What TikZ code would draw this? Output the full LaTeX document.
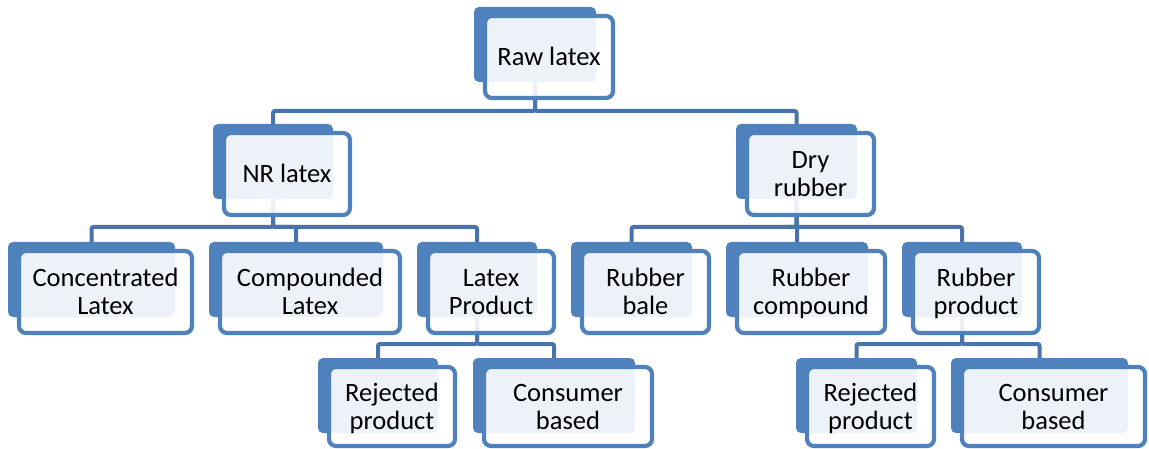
\documentclass[tikz,border=0pt]{standalone}
\usepackage{fontspec}
\setmainfont{Carlito}
\usetikzlibrary{calc}
\definecolor{accent}{RGB}{79,129,189}
\definecolor{linec}{RGB}{72,115,172}
\pgfdeclarelayer{bg}
\pgfsetlayers{bg,main}
\newcommand\fh{82}
\newcommand\mystrut{\rule[-5pt]{0pt}{27pt}}
\newcommand\smartbox[5]{%
  \node[backbox, minimum width={#3pt-#2pt}] (#1) at ({(#2+#3)/2},{#4+37.5}) {};
  \node[frontbox, minimum width={#3pt-#2pt+6pt}, minimum height={\fh pt}] (#1t) at ({(#2+#3)/2+14},{#4+9+\fh/2}) {\mystrut#5\mystrut};
}
\tikzset{
  backbox/.style={fill=accent, draw=none, rounded corners=5pt, minimum height=75pt, inner sep=0pt, outer sep=0pt},
  frontbox/.style={draw=accent, line width=4.2pt, fill=white, fill opacity=0.9, text opacity=1, rounded corners=7pt, inner sep=0pt, outer sep=0pt, align=center, font=\fontsize{26.5}{28}\selectfont, text=black},
  conn/.style={draw=linec, line width=4pt, rounded corners=2pt}
}
\begin{document}
\begin{tikzpicture}[x=1pt,y=-1pt]
\useasboundingbox (0,0) rectangle (1149,449);
\smartbox{raw}{474}{596}{7}{Raw latex}
\smartbox{nr}{213}{333}{124}{NR latex}
\smartbox{dry}{736}{857}{124}{Dry\\rubber}
\smartbox{conc}{8}{175}{242}{Concentrated\\Latex}
\smartbox{comp}{209}{383}{242}{Compounded\\Latex}
\smartbox{lprod}{417}{537}{242}{Latex\\Product}
\smartbox{bale}{571}{692}{242}{Rubber\\bale}
\smartbox{rcomp}{726}{868}{242}{Rubber\\compound}
\smartbox{rprod}{902}{1022}{242}{Rubber\\product}
\renewcommand\fh{79}
\smartbox{rejA}{318}{438}{358}{Rejected\\product}
\smartbox{consA}{473}{635}{358}{Consumer\\based}
\smartbox{rejB}{796}{917}{358}{Rejected\\product}
\smartbox{consB}{951}{1128}{358}{Consumer\\based}
\begin{pgfonlayer}{bg}
\draw[conn] (raw.south) -- ++(0,29) -| (nr.north);
\draw[conn] (raw.south) -- ++(0,29) -| (dry.north);
\draw[conn] (nr.south) -- ++(0,28) -| (conc.north);
\draw[conn] (nr.south) -- ++(0,28) -| (comp.north);
\draw[conn] (nr.south) -- ++(0,28) -| (lprod.north);
\draw[conn] (dry.south) -- ++(0,28) -| (bale.north);
\draw[conn] (dry.south) -- ++(0,28) -| (rcomp.north);
\draw[conn] (dry.south) -- ++(0,28) -| (rprod.north);
\draw[conn] (lprod.south) -- ++(0,27) -| (rejA.north);
\draw[conn] (lprod.south) -- ++(0,27) -| (consA.north);
\draw[conn] (rprod.south) -- ++(0,27) -| (rejB.north);
\draw[conn] (rprod.south) -- ++(0,27) -| (consB.north);
\end{pgfonlayer}
\end{tikzpicture}
\end{document}
